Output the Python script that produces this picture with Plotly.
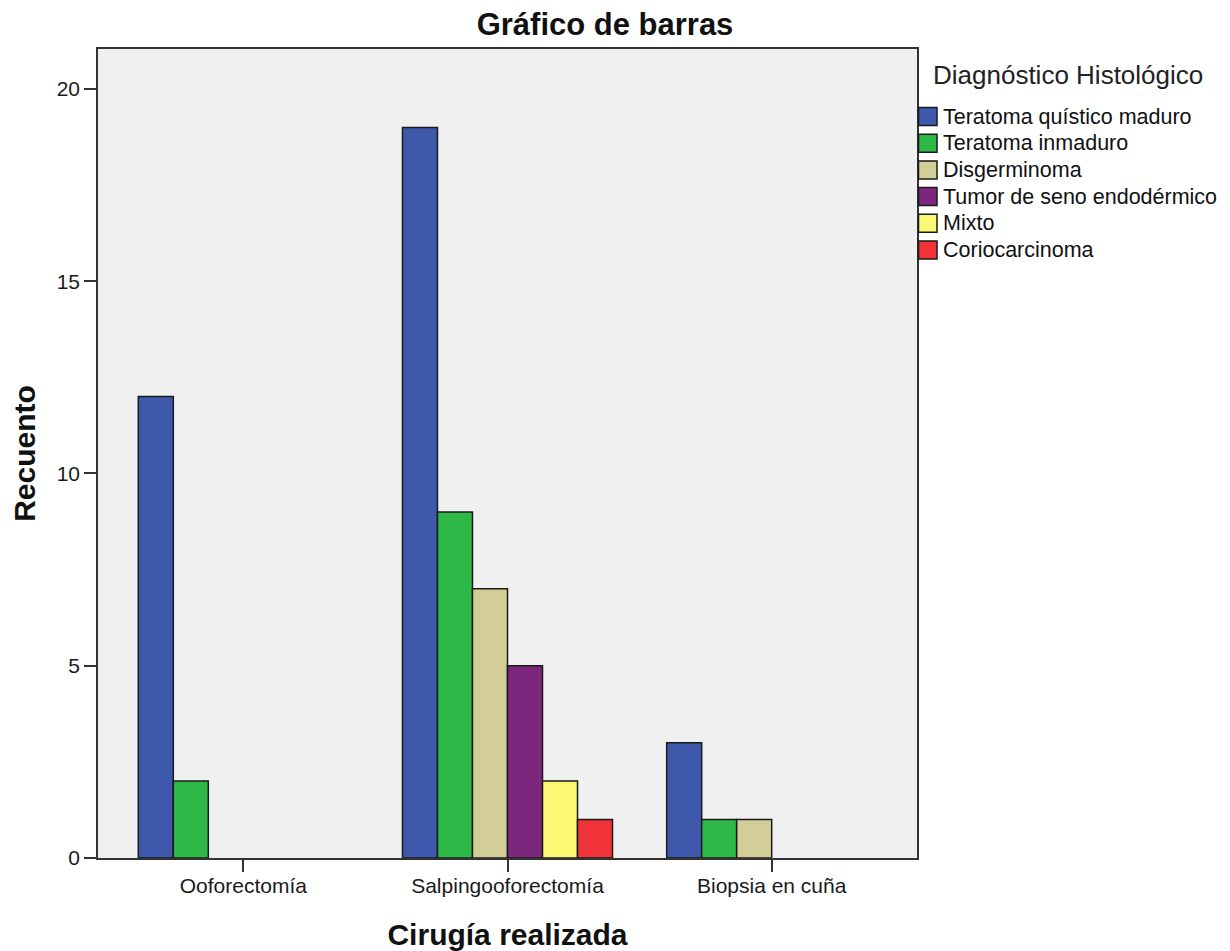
import plotly.graph_objects as go

# ---- data ----
categories = ["Ooforectomía", "Salpingooforectomía", "Biopsia en cuña"]
series_names = [
    "Teratoma quístico maduro",
    "Teratoma inmaduro",
    "Disgerminoma",
    "Tumor de seno endodérmico",
    "Mixto",
    "Coriocarcinoma",
]
teratoma_quistico_maduro = [12, 19, 3]
teratoma_inmaduro = [2, 9, 1]
disgerminoma = [0, 7, 1]
tumor_seno_endodermico = [0, 5, 0]
mixto = [0, 2, 0]
coriocarcinoma = [0, 1, 0]
y_ticks = [0, 5, 10, 15, 20]
legend_title = "Diagnóstico Histológico"

series_values = [
    teratoma_quistico_maduro,
    teratoma_inmaduro,
    disgerminoma,
    tumor_seno_endodermico,
    mixto,
    coriocarcinoma,
]
colors = ["#3E58AC", "#2EB848", "#D3CE97", "#7B277D", "#FBF873", "#EF3338"]

FONT = "Arial, 'Liberation Sans', sans-serif"

# figure geometry (page body adds an 8px offset)
W, H = 1222, 943
L, R, T, B = 90, 313, 41, 93
PW, PH = W - L - R, H - T - B


def px_x(x):
    return (x - L) / PW


def px_y(y):
    return (H - B - y) / PH


fig = go.Figure()
for name, vals, col in zip(series_names, series_values, colors):
    fig.add_trace(go.Bar(
        x=categories,
        y=[v if v else None for v in vals],
        name=name,
        marker=dict(color=col, line=dict(color="#1a1a1a", width=1.5)),
        showlegend=False,
    ))

# legend drawn as shapes + text
shapes = []
annotations = [dict(
    text=legend_title, xref="paper", yref="paper",
    x=px_x(923), y=px_y(67), xanchor="left", yanchor="middle",
    showarrow=False, font=dict(family=FONT, size=26, color="#222"),
)]
for i, (name, col) in enumerate(zip(series_names, colors)):
    cy = 108.5 + 26.7 * i
    shapes.append(dict(
        type="rect", xref="paper", yref="paper",
        x0=px_x(910.5), x1=px_x(929), y0=px_y(cy - 9), y1=px_y(cy + 9),
        fillcolor=col, line=dict(color="#1a1a1a", width=1.5), layer="above",
    ))
    annotations.append(dict(
        text=name, xref="paper", yref="paper",
        x=px_x(933), y=px_y(cy), xanchor="left", yanchor="middle",
        showarrow=False, font=dict(family=FONT, size=21.5, color="#111"),
    ))

fig.update_layout(
    width=W, height=H,
    margin=dict(l=L, r=R, t=T, b=B, autoexpand=False),
    paper_bgcolor="white",
    plot_bgcolor="#F0F0F0",
    barmode="group",
    bargap=0.205,
    bargroupgap=0,
    showlegend=False,
    font=dict(family=FONT, color="#1a1a1a", size=21),
    title=dict(
        text="Gráfico de barras",
        font=dict(family=FONT, size=31, weight="bold", color="#111"),
        x=597 / W, xref="container", xanchor="center",
        y=1 - 16 / H, yref="container", yanchor="middle",
    ),
    shapes=shapes,
    annotations=annotations,
)

fig.update_xaxes(
    type="category",
    range=[-0.55, 2.55],
    automargin=False,
    showgrid=False,
    showline=True, linecolor="#333", linewidth=1.5, mirror=True,
    ticks="outside", ticklen=12, tickwidth=1.5, tickcolor="#333",
    ticklabelstandoff=-4,
    tickfont=dict(family=FONT, size=21, color="#1a1a1a"),
    title=dict(text="Cirugía realizada",
               font=dict(family=FONT, size=30, weight="bold", color="#111"),
               standoff=28),
)
fig.update_yaxes(
    range=[0, 21.04],
    tickvals=y_ticks,
    automargin=False,
    showgrid=False, zeroline=False,
    showline=True, linecolor="#333", linewidth=1.5, mirror=True,
    ticks="outside", ticklen=12, tickwidth=1.5, tickcolor="#333",
    tickfont=dict(family=FONT, size=21, color="#1a1a1a"),
    title=dict(text="Recuento",
               font=dict(family=FONT, size=30, weight="bold", color="#111"),
               standoff=14),
)

fig.write_html("out.html")
